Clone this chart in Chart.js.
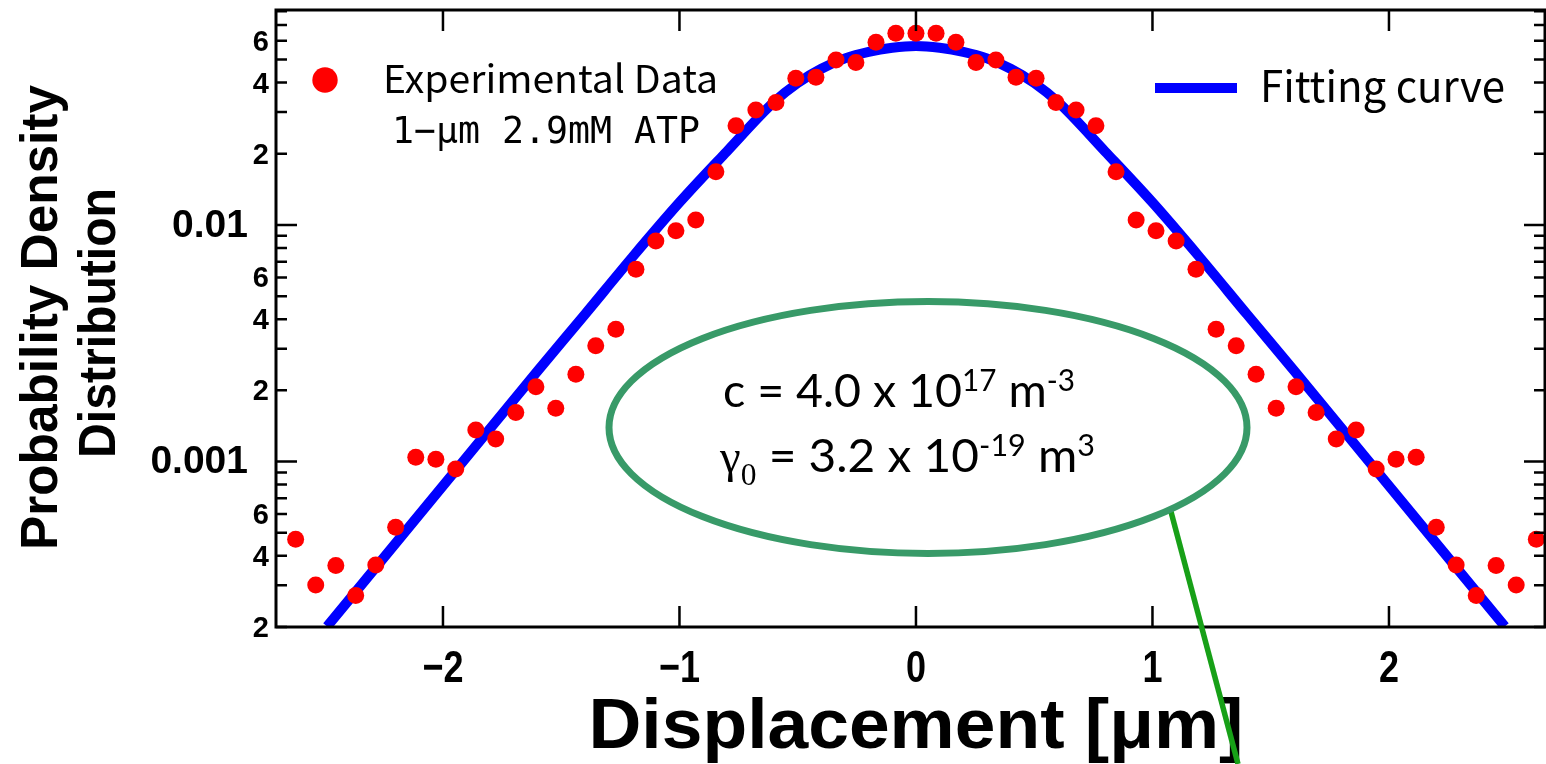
<!DOCTYPE html>
<html>
<head>
<meta charset="utf-8">
<title>Probability Density Distribution</title>
<script src="https://cdn.jsdelivr.net/npm/chart.js@4.4.0/dist/chart.umd.min.js"></script>
<style>
    html, body { margin: 0; padding: 0; background: #fff; overflow: hidden; }
    #wrap { width: 1546px; height: 764px; }
</style>
</head>
<body>
<div id="wrap"><canvas id="pdfChart" width="1546" height="764"></canvas></div>
<script>
// Displacement bins [um]
const binX = [
    -2.623, -2.538, -2.453, -2.369, -2.284, -2.200, -2.115, -2.030, -1.946, -1.861, -1.777,
    -1.692, -1.607, -1.523, -1.438, -1.354, -1.269, -1.184, -1.100, -1.015, -0.931, -0.846,
    -0.761, -0.677, -0.592, -0.508, -0.423, -0.338, -0.254, -0.169, -0.085, 0,
    0.085, 0.169, 0.254, 0.338, 0.423, 0.508, 0.592, 0.677, 0.761, 0.846, 0.931,
    1.015, 1.100, 1.184, 1.269, 1.354, 1.438, 1.523, 1.607, 1.692, 1.777, 1.861,
    1.946, 2.030, 2.115, 2.200, 2.284, 2.369, 2.453, 2.538, 2.623
];

// Experimental data (1-um, 2.9mM ATP)
const experimental = [
    0.000470, 0.000301, 0.000364, 0.000272, 0.000366, 0.000528, 0.001044, 0.001023, 0.000931, 0.001361, 0.001247,
    0.001611, 0.002074, 0.001681, 0.002340, 0.00309, 0.003625, 0.00650, 0.00856, 0.00946, 0.01050, 0.01679,
    0.02627, 0.0306, 0.0329, 0.0417, 0.0421, 0.0498, 0.0486, 0.0592, 0.0646, 0.0646,
    0.0646, 0.0592, 0.0486, 0.0498, 0.0421, 0.0417, 0.0329, 0.0306, 0.02627, 0.01679, 0.01050,
    0.00946, 0.00856, 0.00650, 0.003625, 0.00309, 0.002340, 0.001681, 0.002074, 0.001611, 0.001247, 0.001361,
    0.000931, 0.001023, 0.001044, 0.000528, 0.000366, 0.000272, 0.000364, 0.000301, 0.000470
];

// Fitting curve
const fitX = [
    -2.49, -2.2, -1.9, -1.6, -1.4, -1.2, -1.0, -0.8, -0.6, -0.5, -0.4, -0.3, -0.2, -0.1, 0,
    0.1, 0.2, 0.3, 0.4, 0.5, 0.6, 0.8, 1.0, 1.2, 1.4, 1.6, 1.9, 2.2, 2.49
];
const fitY = [
    0.000201, 0.000452, 0.001045, 0.002415, 0.004188, 0.007295, 0.01245, 0.02042, 0.03311, 0.03981,
    0.04571, 0.05058, 0.05395, 0.05610, 0.05702,
    0.05610, 0.05395, 0.05058, 0.04571, 0.03981, 0.03311, 0.02042, 0.01245, 0.007295, 0.004188,
    0.002415, 0.001045, 0.000452, 0.000201
];

// Axis ticks
const xTicks = [-2, -1, 0, 1, 2];
const xTickLabels = ['\u22122', '\u22121', '0', '1', '2'];
const yTicks = [
    0.0002, 0.0003, 0.0004, 0.0005, 0.0006, 0.0007, 0.0008, 0.0009,
    0.001, 0.002, 0.003, 0.004, 0.005, 0.006, 0.007, 0.008, 0.009,
    0.01, 0.02, 0.03, 0.04, 0.05, 0.06, 0.07, 0.08
];
const yMajorTicks = [0.001, 0.01];
const yMajorLabels = ['0.001', '0.01'];
const yMinorLabelTicks = [0.0002, 0.0004, 0.0006, 0.002, 0.004, 0.006, 0.02, 0.04, 0.06];
const yMinorLabels = ['2', '4', '6', '2', '4', '6', '2', '4', '6'];

const SANS = '"Liberation Sans", Arial, sans-serif';
const GOTHIC = '"Noto Sans CJK JP", "Noto Sans", sans-serif';

// draw text squeezed/stretched to a given width
function fitText(ctx, text, x, y, font, width, align) {
    ctx.save();
    ctx.font = font;
    const w = ctx.measureText(text).width;
    ctx.translate(x, y);
    ctx.scale(width / w, 1);
    ctx.textAlign = align || 'left';
    ctx.fillText(text, 0, 0);
    ctx.restore();
}

// text made of runs (superscripts, subscripts) fitted to a width
function drawRuns(ctx, runs, x, y, width) {
    ctx.save();
    let total = 0;
    runs.forEach(r => {
        ctx.font = r.font;
        total += ctx.measureText(r.t).width;
    });
    ctx.translate(x, y);
    ctx.scale(width / total, 1);
    ctx.textAlign = 'left';
    let cx = 0;
    runs.forEach(r => {
        ctx.font = r.font;
        ctx.fillText(r.t, cx, r.dy || 0);
        cx += ctx.measureText(r.t).width;
    });
    ctx.restore();
}

const decorPlugin = {
    id: 'decor',
    beforeDraw(chart) {
        const ctx = chart.ctx;
        ctx.save();
        ctx.fillStyle = '#fff';
        ctx.fillRect(0, 0, chart.width, chart.height);
        ctx.restore();
    },
    afterDatasetsDraw(chart) {
        const ctx = chart.ctx;
        const area = chart.chartArea;
        const xs = chart.scales.x;
        const ys = chart.scales.y;
        const right = area.right - 1;

        ctx.save();
        ctx.strokeStyle = '#000';
        ctx.fillStyle = '#000';

        // frame
        ctx.lineWidth = 3;
        ctx.strokeRect(area.left, area.top, right - area.left, area.bottom - area.top);

        // y ticks, inward on both sides
        ctx.lineWidth = 2.5;
        yTicks.forEach(v => {
            const y = ys.getPixelForValue(v);
            const len = yMajorTicks.includes(v) ? 21 : 11;
            ctx.beginPath();
            ctx.moveTo(area.left, y);
            ctx.lineTo(area.left + len, y);
            ctx.moveTo(right, y);
            ctx.lineTo(right - len, y);
            ctx.stroke();
        });

        // x ticks, inward top and bottom
        xTicks.forEach(v => {
            const x = xs.getPixelForValue(v);
            ctx.beginPath();
            ctx.moveTo(x, area.bottom);
            ctx.lineTo(x, area.bottom - 21);
            ctx.moveTo(x, area.top);
            ctx.lineTo(x, area.top + 21);
            ctx.stroke();
        });

        // y tick labels
        ctx.textBaseline = 'middle';
        ctx.textAlign = 'right';
        ctx.font = 'bold 39px ' + SANS;
        yMajorTicks.forEach((v, i) => {
            ctx.fillText(yMajorLabels[i], 248, ys.getPixelForValue(v) + 1);
        });
        ctx.font = 'bold 29px ' + SANS;
        yMinorLabelTicks.forEach((v, i) => {
            ctx.fillText(yMinorLabels[i], 269, ys.getPixelForValue(v) + 2);
        });

        // x tick labels (condensed bold)
        ctx.textBaseline = 'alphabetic';
        xTicks.forEach((v, i) => {
            const x = xs.getPixelForValue(v);
            ctx.save();
            ctx.font = 'bold 45px ' + SANS;
            ctx.translate(x, 682);
            ctx.scale(0.8, 1);
            ctx.textAlign = 'center';
            ctx.fillText(xTickLabels[i], 0, 0);
            ctx.restore();
        });

        // axis titles
        fitText(ctx, 'Displacement [\u03bcm]', 916, 748, 'bold 70px ' + SANS, 655, 'center');
        ctx.save();
        ctx.translate(57, 317.5);
        ctx.rotate(-Math.PI / 2);
        fitText(ctx, 'Probability Density', 0, 0, 'bold 52px ' + SANS, 465, 'center');
        ctx.restore();
        ctx.save();
        ctx.translate(115, 323);
        ctx.rotate(-Math.PI / 2);
        fitText(ctx, 'Distribution', 0, 0, 'bold 52px ' + SANS, 270, 'center');
        ctx.restore();

        // legend
        ctx.fillStyle = '#ff0000';
        ctx.beginPath();
        ctx.arc(325, 80, 12.7, 0, Math.PI * 2);
        ctx.fill();
        ctx.fillStyle = '#000';
        fitText(ctx, 'Experimental Data', 383, 93, '38px ' + GOTHIC, 335);
        fitText(ctx, '1\u2212\u03bcm 2.9mM ATP', 392, 143, '38px "DejaVu Sans Mono", monospace', 308);

        ctx.strokeStyle = '#0000ff';
        ctx.lineWidth = 10;
        ctx.beginPath();
        ctx.moveTo(1155, 88);
        ctx.lineTo(1237, 88);
        ctx.stroke();
        fitText(ctx, 'Fitting curve', 1260, 102, '43px ' + GOTHIC, 245);

        // annotation ellipse and pointer
        ctx.strokeStyle = '#17a017';
        ctx.lineWidth = 5.5;
        ctx.beginPath();
        ctx.moveTo(1170, 508);
        ctx.lineTo(1238, 764);
        ctx.stroke();

        ctx.strokeStyle = '#389a68';
        ctx.lineWidth = 7;
        ctx.beginPath();
        ctx.ellipse(928, 427.5, 319, 126, 0, 0, Math.PI * 2);
        ctx.stroke();

        const big = '47px Lato, "Open Sans", sans-serif';
        const sup = '30px Lato, "Open Sans", sans-serif';
        drawRuns(ctx, [
            { t: 'c = 4.0 x 10', font: big },
            { t: '17', font: sup, dy: -16 },
            { t: ' m', font: big },
            { t: '-3', font: sup, dy: -16 }
        ], 723, 407, 352);
        drawRuns(ctx, [
            { t: '\u03b3', font: '46px "Liberation Serif", serif' },
            { t: '0', font: '31px "Liberation Serif", serif', dy: 13 },
            { t: ' = 3.2 x 10', font: big },
            { t: '-19', font: sup, dy: -16 },
            { t: ' m', font: big },
            { t: '3', font: sup, dy: -16 }
        ], 720, 472, 375);

        ctx.restore();
    }
};

const ctx = document.getElementById('pdfChart').getContext('2d');
new Chart(ctx, {
    type: 'scatter',
    data: {
        datasets: [{
            label: 'Experimental Data',
            data: binX.map((x, i) => ({ x: x, y: experimental[i] })),
            pointRadius: 8.5,
            pointBackgroundColor: '#ff0000',
            pointBorderWidth: 0,
            showLine: false,
            order: 0
        }, {
            label: 'Fitting curve',
            data: fitX.map((x, i) => ({ x: x, y: fitY[i] })),
            showLine: true,
            borderColor: '#0000ff',
            borderWidth: 10,
            pointRadius: 0,
            cubicInterpolationMode: 'monotone',
            order: 1
        }]
    },
    options: {
        responsive: false,
        animation: false,
        layout: { autoPadding: false, padding: { left: 276, top: 10, right: 0, bottom: 137 } },
        plugins: {
            legend: { display: false },
            tooltip: { enabled: false }
        },
        scales: {
            x: { type: 'linear', min: -2.706, max: 2.664, display: false },
            y: { type: 'logarithmic', min: 0.0002, max: 0.081, display: false }
        }
    },
    plugins: [decorPlugin]
});
</script>
</body>
</html>
